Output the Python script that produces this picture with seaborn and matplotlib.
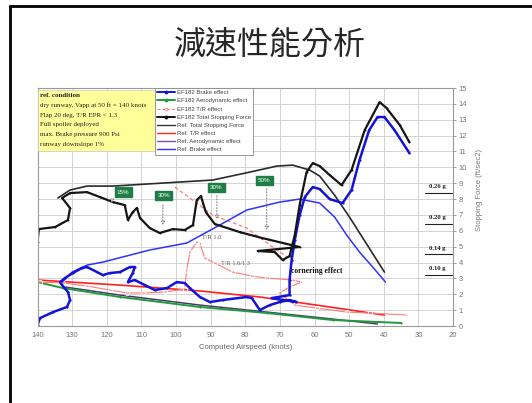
import matplotlib
matplotlib.use("Agg")
import matplotlib.pyplot as plt
import matplotlib.patches as patches
from matplotlib.lines import Line2D
import seaborn as sns

sns.set_style("white")
plt.rcParams['font.family'] = ['Liberation Sans', 'DejaVu Sans']

title = "減速性能分析"
x_ticks = list(range(140, 19, -10))
y_ticks = list(range(0, 16))

# EF182 curves (knots, ft/sec2)
ef_total_kn = [140.0, 139.6, 134.9, 131.2, 130.6, 132.9, 130.6, 125.7, 122.0, 118.2,
               114.8, 113.9, 112.5, 111.3, 110.4, 107.6, 104.7, 100.9, 97.5, 95.1,
               94.0, 92.8, 91.4, 88.8, 81.6, 75.2, 64.3, 76.4, 71.5, 69.2,
               67.2, 65.7, 64.3, 62.3, 60.5, 58.5, 55.6, 52.2, 49.3, 45.5,
               41.2, 39.2, 35.4, 32.6]
ef_total_f = [5.29, 6.11, 6.24, 6.68, 7.44, 8.07, 8.38, 8.44, 8.13, 7.81,
              7.62, 6.68, 7.18, 7.44, 6.81, 6.18, 5.86, 6.11, 6.05, 6.36,
              7.94, 8.19, 7.18, 6.43, 5.92, 5.55, 4.98, 4.73, 4.66, 4.16,
              4.41, 5.73, 7.62, 9.70, 10.27, 10.08, 9.51, 8.88, 9.83, 12.35,
              14.11, 13.74, 12.67, 11.59]

ef_brake_kn = [140.0, 139.3, 135.5, 131.5, 130.6, 131.2, 132.9, 133.5, 132.1, 129.8,
               127.2, 125.7, 122.8, 121.1, 119.1, 116.2, 113.3, 111.9, 112.5, 113.9,
               111.9, 109.0, 106.1, 102.6, 99.8, 97.5, 96.0, 93.1, 90.2, 86.5,
               79.6, 78.1, 75.8, 72.9, 70.1, 67.2, 65.2, 72.4, 67.2, 67.2,
               66.6, 65.7, 64.3, 62.8, 60.5, 58.5, 55.6, 51.9, 49.3, 47.0,
               44.2, 41.8, 39.8, 36.9, 32.6]
ef_brake_f = [0.06, 0.50, 0.88, 1.20, 1.64, 2.14, 2.58, 2.77, 3.02, 3.34,
              3.65, 3.72, 3.40, 3.21, 3.34, 3.40, 3.72, 3.72, 3.34, 2.77,
              2.90, 2.58, 2.27, 2.39, 2.77, 2.71, 2.39, 1.83, 1.51, 1.64,
              1.83, 1.76, 1.01, 1.32, 1.51, 1.64, 1.51, 1.76, 1.95, 2.90,
              4.16, 5.42, 6.99, 8.13, 8.76, 8.63, 8.00, 7.75, 8.57, 10.46,
              12.35, 13.17, 13.17, 12.35, 10.90]

ef_aero_kn = [140.0, 132.6, 116.2, 93.1, 73.8, 54.8, 34.9]
ef_aero_f = [2.77, 2.39, 1.83, 1.20, 0.82, 0.38, 0.19]

ef_tr_kn = [139.3, 132.6, 125.7, 119.1, 114.2, 109.6, 103.2, 97.5, 96.9, 96.0,
            94.0, 93.1, 91.7, 88.8, 83.6, 78.1, 73.8, 66.3, 63.7, 67.2,
            70.1, 65.7, 59.4, 50.7, 44.1, 33.1]
ef_tr_f = [2.77, 2.71, 2.52, 2.27, 2.08, 2.08, 2.14, 2.33, 3.53, 4.66,
           5.29, 5.23, 4.28, 3.97, 3.40, 3.15, 3.02, 2.90, 2.77, 2.46,
           2.08, 1.32, 1.13, 0.88, 0.82, 0.69]
ef_tr_dash_kn = [100.3, 89.4, 79.6, 72.9, 65.7]
ef_tr_dash_f = [8.76, 6.99, 6.18, 5.10, 4.03]

# reference curves
ref_total_kn = [134.1, 130.6, 125.7, 118.2, 103.8, 89.4, 78.7, 70.9, 66.3, 61.4, 58.5, 54.2, 49.9, 39.8]
ref_total_f = [8.07, 8.57, 8.82, 8.82, 9.01, 9.20, 9.70, 10.08, 10.14, 9.83, 9.45, 8.25, 6.87, 3.40]
ref_tr_kn = [140.0, 116.2, 93.1, 75.8, 55.6, 39.8]
ref_tr_f = [2.90, 2.58, 2.21, 1.83, 1.20, 0.69]
ref_aero_kn = [132.1, 116.2, 93.1, 73.8, 54.8, 41.8]
ref_aero_f = [2.46, 1.95, 1.32, 0.88, 0.44, 0.13]
ref_brake_kn = [132.9, 130.0, 125.7, 121.1, 107.6, 96.9, 87.4, 79.6, 70.1, 64.3, 58.5, 54.2, 50.7, 47.0, 43.2, 39.5]
ref_brake_f = [2.77, 3.40, 3.84, 4.03, 4.79, 5.23, 6.36, 7.31, 7.81, 8.00, 7.75, 6.87, 5.73, 4.66, 3.72, 2.77]

# deceleration levels (g) and spoiler tags
g_levels = [0.26, 0.20, 0.14, 0.10]
g_labels = ["0.26 g", "0.20 g", "0.14 g", "0.10 g"]
tag_text = ["15%", "30%", "30%", "50%"]
tag_kn = [115.3, 103.5, 88.4, 74.5]
tag_f = [8.44, 8.22, 8.73, 9.17]
tag_arrow_kn = [118.5, 103.8, 88.2, 73.8]
tag_arrow_top = [8.10, 7.81, 8.38, 8.82]
tag_arrow_end = [7.75, 6.18, 6.55, 5.86]

cond_lines = ["ref. condition",
              "dry runway, Vapp at 50 ft = 140 knots",
              "Flap 20 deg, T/R EPR < 1.3",
              "Full spoiler deployed",
              "max. Brake pressure 900 Psi",
              "runway downslope 1%"]

fig = plt.figure(figsize=(5.32, 4.03), dpi=100)
ax = fig.add_axes([0.0705, 0.191, 0.781, 0.5906])


def draw(kn, f, **kw):
    sns.lineplot(x=kn, y=f, sort=False, estimator=None, errorbar=None, ax=ax, **kw)


draw(ref_aero_kn, ref_aero_f, color="#4a3a66", lw=1.1)
draw(ef_aero_kn, ef_aero_f, color="#1f9a3c", lw=1.4, marker="o", ms=1.5, mec="none")
draw(ref_tr_kn, ref_tr_f, color="#ff2020", lw=1.2)
draw(ef_tr_kn, ef_tr_f, color="#ff7a7a", lw=0.8, marker="o", ms=3, mfc="none", mew=0.6)
draw(ef_tr_dash_kn, ef_tr_dash_f, color="#ff7a7a", lw=0.9, ls=(0, (3, 2)), marker="^", ms=2.5,
     mfc="none", mew=0.6, markevery=[4])
draw(ref_brake_kn, ref_brake_f, color="#3030ff", lw=1.1)
draw(ref_total_kn, ref_total_f, color="#2a2a2a", lw=1.2)
draw(ef_brake_kn, ef_brake_f, color="#1414d8", lw=1.8, marker="o", ms=1.6, mec="none")
draw(ef_total_kn, ef_total_f, color="#151515", lw=1.6, marker="o", ms=1.4, mec="none")

ax.set_xlim(140, 20)
ax.set_ylim(0, 15)
ax.set_xticks(x_ticks)
ax.set_yticks(y_ticks)
ax.yaxis.tick_right()
ax.tick_params(labelsize=5.5, colors="#777", length=2, width=0.5, pad=2)
ax.grid(True, color="#cccccc", lw=0.6)
ax.set_axisbelow(True)
for s in ax.spines.values():
    s.set_color("#999999")
    s.set_linewidth(0.8)
ax.set_xlabel("Computed Airspeed (knots)", fontsize=5.5, color="#666", labelpad=4)
ax.set_ylabel("")
ax.text(1.063, 0.571, "Stopping Force (ft/sec2)", rotation=90, transform=ax.transAxes,
        fontsize=5.5, color="#777", ha="center", va="center")

# g level marks at the right
for g, lab in zip(g_levels, g_labels):
    ax.plot([28.2, 20.2], [g * 32.2, g * 32.2], color="#222", lw=0.8)
    ax.text(24.5, g * 32.2 + 0.25, lab, fontsize=4.8, family="Liberation Serif",
            fontweight="bold", ha="center", va="bottom", color="#222")

# spoiler tags with dotted arrows
for t, kx, ky, ak, a0, a1 in zip(tag_text, tag_kn, tag_f, tag_arrow_kn, tag_arrow_top, tag_arrow_end):
    ax.annotate("", xy=(ak, a1), xytext=(ak, a0),
                arrowprops=dict(arrowstyle="-|>", ls=":", color="#888", lw=0.8,
                                mutation_scale=5, fc="white"))
    ax.text(kx, ky, t, fontsize=4.5, color="white", ha="center", va="center", zorder=6,
            bbox=dict(boxstyle="square,pad=0.35", fc="#1e7d44", ec="#1e7d44"))

ax.text(89.7, 5.61, "T/R 1.0", fontsize=4.5, family="Liberation Serif", color="#555",
        ha="center", va="center")
ax.text(82.7, 3.97, "T/R 1.6/1.3", fontsize=4.5, family="Liberation Serif", color="#555",
        ha="center", va="center")
ax.text(59.4, 3.47, "cornering effect", fontsize=5.5, family="Liberation Serif",
        fontweight="bold", color="#111", ha="center", va="center")

# condition box
ax.add_patch(patches.Rectangle((0.0, 0.735), 0.283, 0.257, transform=ax.transAxes,
                               fc="#ffff99", ec="#cccccc", lw=0.5, zorder=5))
for i, line in enumerate(cond_lines):
    ax.text(0.007, 0.967 - i * 0.0405, line, transform=ax.transAxes, fontsize=5,
            family="Liberation Serif", fontweight="bold" if i == 0 else "normal",
            color="#222", ha="left", va="center", zorder=6)

handles = [
    Line2D([], [], color="#1414d8", lw=1.4, marker="o", ms=1.8),
    Line2D([], [], color="#1f9a3c", lw=1.4, marker="o", ms=1.8),
    Line2D([], [], color="#ff7a7a", lw=0.7, ls=(0, (3, 2)), marker="o", ms=2.2, mfc="none", mew=0.5),
    Line2D([], [], color="#151515", lw=1.4, marker="o", ms=1.8),
    Line2D([], [], color="#333333", lw=1.0),
    Line2D([], [], color="#ff2020", lw=1.0),
    Line2D([], [], color="#7a4fb0", lw=1.0),
    Line2D([], [], color="#3030ff", lw=1.0),
]
labels = ["EF182 Brake effect", "EF182 Aerodynamic effect", "EF182 T/R effect",
          "EF182 Total Stopping Force", "Ref. Total Stopping Force", "Ref. T/R effect",
          "Ref. Aerodynamic effect", "Ref. Brake effect"]
leg = ax.legend(handles, labels, loc="upper left", bbox_to_anchor=(0.283, 1.0),
                fontsize=4.3, frameon=True, fancybox=False, edgecolor="#888",
                framealpha=1, handlelength=3.0, labelspacing=0.5, borderpad=0.35,
                handletextpad=0.3, borderaxespad=0)
leg.get_frame().set_linewidth(0.6)
for t in leg.get_texts():
    t.set_color("#444")
leg.set_zorder(7)

# slide title and frame
fig.text(0.508, 1 - 45 / 403, title, fontsize=23, ha="center", va="center",
         family=["Noto Sans CJK TC", "DejaVu Sans"])
fig.add_artist(Line2D([10 / 532, 1], [1 - 6 / 403] * 2, transform=fig.transFigure,
                      color="black", lw=2))
fig.add_artist(Line2D([10 / 532] * 2, [0, 1 - 6 / 403], transform=fig.transFigure,
                      color="black", lw=2))

fig.savefig("out.png", dpi=100)
